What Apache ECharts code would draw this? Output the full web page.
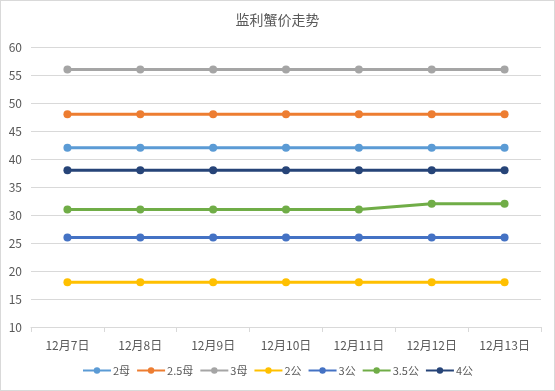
<!DOCTYPE html>
<html><head><meta charset="utf-8">
<script src="https://cdn.jsdelivr.net/npm/echarts@6/dist/echarts.min.js"></script>
<style>html,body{margin:0;padding:0;background:#fff}#c{width:553px;height:389px;border:1px solid #d9d9d9}</style>
</head><body><div id="c"></div>
<script>
const categories = ['12月7日','12月8日','12月9日','12月10日','12月11日','12月12日','12月13日'];
const s2mu   = [42,42,42,42,42,42,42];
const s25mu  = [48,48,48,48,48,48,48];
const s3mu   = [56,56,56,56,56,56,56];
const s2gong = [18,18,18,18,18,18,18];
const s3gong = [26,26,26,26,26,26,26];
const s35gong= [31,31,31,31,31,32,32];
const s4gong = [38,38,38,38,38,38,38];
const seriesNames = ['2母','2.5母','3母','2公','3公','3.5公','4公'];
const seriesData = [s2mu,s25mu,s3mu,s2gong,s3gong,s35gong,s4gong];
const colors = ['#5B9BD5','#ED7D31','#A5A5A5','#FFC000','#4472C4','#70AD47','#264478'];
const yTicks = {min:10,max:60,interval:5};

const font = '"Noto Sans CJK SC", "Noto Sans", sans-serif';
const chart = echarts.init(document.getElementById('c'), null, {renderer:'canvas'});
chart.setOption({
  animation:false,
  color: colors,
  textStyle:{fontFamily:font},
  title:{text:'监利蟹价走势',left:'center',top:7,textStyle:{fontSize:14,fontWeight:'normal',color:'#595959',fontFamily:font}},
  legend:{data:seriesNames,bottom:9,left:'center',itemWidth:28,itemHeight:8,itemGap:6,
    textStyle:{fontSize:11,color:'#595959',fontFamily:font,padding:[0,0,0,-3]}},
  grid:{left:30,right:13,top:46,bottom:63},
  xAxis:{type:'category',data:categories,boundaryGap:true,
    axisLine:{lineStyle:{color:'#d9d9d9'}},
    axisTick:{show:true,length:5,lineStyle:{color:'#d9d9d9'}},
    axisLabel:{color:'#595959',fontSize:12,margin:12,fontFamily:font}},
  yAxis:{type:'value',min:yTicks.min,max:yTicks.max,interval:yTicks.interval,
    axisLine:{show:false},axisTick:{show:false},
    axisLabel:{color:'#595959',fontSize:12,margin:9,fontFamily:font},
    splitLine:{lineStyle:{color:'#d9d9d9'}}},
  series: seriesNames.map((n,i)=>({name:n,type:'line',data:seriesData[i],
    symbol:'circle',symbolSize:8,lineStyle:{width:3,color:colors[i]},itemStyle:{color:colors[i]}}))
});
</script></body></html>
